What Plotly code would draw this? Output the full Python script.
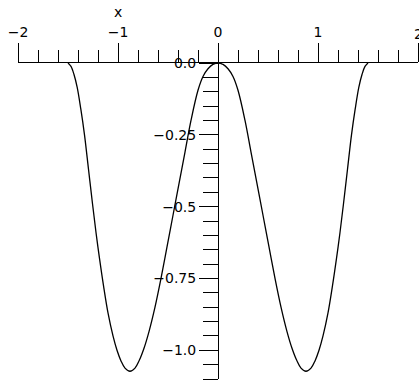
import plotly.graph_objects as go

# points (right half, x >= 0), mirrored for the left half
x_right = [0.0, 0.05, 0.1, 0.15, 0.2, 0.27, 0.33, 0.39, 0.45, 0.51, 0.57, 0.63, 0.69, 0.74, 0.787, 0.83, 0.88,
           0.93, 0.97, 1.01, 1.05, 1.1, 1.145, 1.185, 1.22, 1.255, 1.295, 1.335, 1.372, 1.408, 1.44, 1.47, 1.5]
y_right = [0.0, -0.005, -0.02, -0.047, -0.095, -0.2, -0.31, -0.42, -0.53, -0.64, -0.75, -0.85, -0.935, -0.993, -1.035, -1.062, -1.073,
           -1.062, -1.037, -1.0, -0.95, -0.87, -0.775, -0.68, -0.59, -0.49, -0.37, -0.25, -0.16, -0.085, -0.04, -0.012, 0.0]

x_left = [-v for v in reversed(x_right[1:])]
y_left = list(reversed(y_right[1:]))
x_vals = x_left + x_right
y_vals = y_left + y_right

x_ticks = [-2, -1, 0, 1]
x_tick_text = ["\u22122", "\u22121", "0", "1"]
y_ticks = [0.0, -0.25, -0.5, -0.75, -1.0]
y_tick_text = ["0.0", "\u22120.25", "\u22120.5", "\u22120.75", "\u22121.0"]

font = dict(family="DejaVu Sans, sans-serif", size=14, color="black")

fig = go.Figure()
fig.add_trace(go.Scatter(x=x_vals, y=y_vals, mode="lines",
                         line=dict(color="black", width=1.3, shape="spline", smoothing=1.0),
                         showlegend=False, hoverinfo="skip"))

fig.update_layout(
    width=419, height=381,
    margin=dict(l=18, r=1, t=63, b=2),
    paper_bgcolor="white", plot_bgcolor="white",
    font=font,
    xaxis=dict(range=[-2, 2], side="top", anchor="y",
               showline=True, linecolor="black", linewidth=1,
               showgrid=False, zeroline=False,
               tickmode="array", tickvals=x_ticks + [2], ticktext=x_tick_text + [""],
               ticks="outside", ticklen=19, tickwidth=1, tickcolor="black",
               minor=dict(dtick=0.2, tick0=0, ticks="outside", ticklen=12, tickwidth=1, tickcolor="black"),
               tickfont=font),
    yaxis=dict(range=[-1.1, 0.0], anchor="free", position=0.5, side="left",
               showline=True, linecolor="black", linewidth=1,
               showgrid=False, zeroline=False,
               tickmode="array", tickvals=y_ticks, ticktext=y_tick_text,
               ticks="outside", ticklen=19, tickwidth=1, tickcolor="black",
               minor=dict(dtick=0.05, tick0=0, ticks="outside", ticklen=15, tickwidth=1, tickcolor="black"),
               tickfont=font),
)

# axis label sits above the -1 tick label, as in the original
fig.add_annotation(text="x", x=-1, xref="x", y=1, yref="paper", yshift=51,
                   showarrow=False, font=font, yanchor="middle")
# the "2" label at the right edge is cut off by the page border
fig.add_annotation(text="2", x=2, xref="x", y=1, yref="paper", yshift=29,
                   showarrow=False, font=font, yanchor="middle", xanchor="center")

fig.write_html("out.html", config={"displayModeBar": False},
               post_script="document.body.style.margin='0';")
